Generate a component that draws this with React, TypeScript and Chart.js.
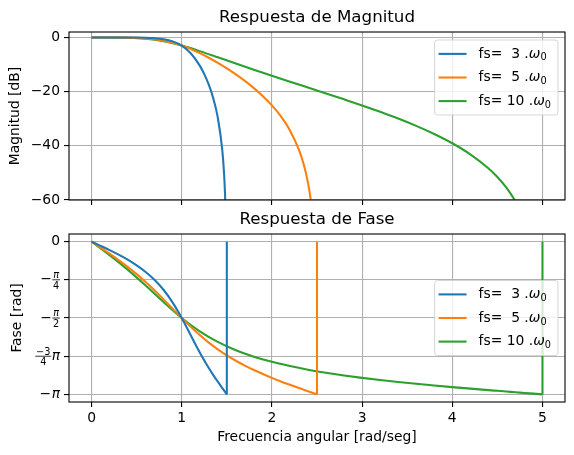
import React, { useEffect, useRef } from 'react';
import { Chart, registerables } from 'chart.js';

Chart.register(...registerables);

// ---------------- data ----------------
const FS_VALUES = [3, 5, 10];
const SERIES_COLORS = ['#1f77b4', '#ff7f0e', '#2ca02c'];

const X_TICKS = [0, 1, 2, 3, 4, 5];
const MAG_TICKS = [-60, -40, -20, 0];
const PHASE_TICKS = [0, -Math.PI / 4, -Math.PI / 2, (-3 * Math.PI) / 4, -Math.PI];
const PHASE_TICK_LABELS = [
  { lead: '0' },
  { lead: '\u2212', num: '\u03c0', den: '4' },
  { lead: '\u2212', num: '\u03c0', den: '2' },
  { num: '\u22123', den: '4', trail: '\u03c0' },
  { lead: '\u2212', trail: '\u03c0' },
];

const TITLE_MAG = 'Respuesta de Magnitud';
const TITLE_PHASE = 'Respuesta de Fase';
const YLABEL_MAG = 'Magnitud [dB]';
const YLABEL_PHASE = 'Fase [rad]';
const XLABEL = 'Frecuencia angular [rad/seg]';

// fs = 3 w0
const omegaFs3 = [0, 0.1, 0.2, 0.3, 0.4, 0.5, 0.6, 0.7, 0.8, 0.9, 1.0, 1.1, 1.2, 1.25, 1.3, 1.35, 1.4, 1.45, 1.47, 1.48, 1.49, 1.5, 1.5];
const magFs3 = [0, 0, -0.001, -0.005, -0.019, -0.053, -0.132, -0.306, -0.678, -1.458, -3.01, -5.83, -10.4, -13.53, -17.44, -22.49, -29.6, -41.7, -50.57, -57.6, -69.7, null, null];
const phaseFs3 = [0, -0.086, -0.174, -0.268, -0.371, -0.488, -0.624, -0.789, -0.995, -1.254, -1.571, -1.927, -2.28, -2.445, -2.6, -2.745, -2.881, -3.013, -3.065, -3.09, -3.116, -3.1416, 0];

// fs = 5 w0
const omegaFs5 = [0, 0.1, 0.2, 0.3, 0.4, 0.5, 0.6, 0.7, 0.8, 0.9, 1.0, 1.1, 1.2, 1.3, 1.4, 1.5, 1.6, 1.7, 1.8, 1.9, 2.0, 2.1, 2.2, 2.3, 2.35, 2.4, 2.43, 2.45, 2.48, 2.5, 2.5];
const magFs5 = [0, 0, -0.004, -0.021, -0.067, -0.17, -0.367, -0.705, -1.232, -1.993, -3.01, -4.284, -5.789, -7.495, -9.377, -11.42, -13.64, -16.05, -18.7, -21.68, -25.09, -29.17, -34.33, -41.49, -46.53, -53.6, -59.8, -65.7, -81.6, null, null];
const phaseFs5 = [0, -0.123, -0.248, -0.379, -0.519, -0.669, -0.832, -1.006, -1.191, -1.381, -1.571, -1.753, -1.922, -2.077, -2.215, -2.339, -2.45, -2.55, -2.641, -2.724, -2.802, -2.875, -2.944, -3.011, -3.044, -3.077, -3.096, -3.109, -3.129, -3.1416, 0];

// fs = 10 w0
const omegaFs10 = [0, 0.2, 0.4, 0.6, 0.8, 1.0, 1.2, 1.4, 1.6, 1.8, 2.0, 2.2, 2.4, 2.6, 2.8, 3.0, 3.2, 3.4, 3.6, 3.8, 4.0, 4.2, 4.4, 4.5, 4.6, 4.7, 4.8, 4.9, 5.0, 5.0];
const magFs10 = [0, -0.006, -0.098, -0.488, -1.432, -3.01, -5.058, -7.325, -9.638, -11.918, -14.15, -16.34, -18.5, -20.66, -22.85, -25.09, -27.44, -29.93, -32.63, -35.63, -39.06, -43.15, -48.31, -51.54, -55.47, -60.5, -67.6, -79.6, null, null];
const phaseFs10 = [0, -0.277, -0.575, -0.903, -1.247, -1.571, -1.845, -2.063, -2.233, -2.366, -2.473, -2.56, -2.634, -2.697, -2.753, -2.802, -2.846, -2.886, -2.924, -2.959, -2.992, -3.023, -3.054, -3.069, -3.084, -3.098, -3.113, -3.127, -3.1416, 0];

const OMEGAS = [omegaFs3, omegaFs5, omegaFs10];
const MAGS = [magFs3, magFs5, magFs10];
const PHASES = [phaseFs3, phaseFs5, phaseFs10];

// ---------------- styling ----------------
const FONT = '"DejaVu Sans", "Noto Sans", sans-serif';
const FS_TEXT = 13.89;
const FS_TITLE = 16.67;
const GRID_COLOR = '#b0b0b0';
const LINE_W = 2.08;

Chart.defaults.font.family = FONT;
Chart.defaults.color = '#000';

const fmtNum = (v: number) => (v < 0 ? '\u2212' + Math.abs(v) : String(v));

function legendLead(fs: number) {
  return 'fs= ' + String(fs).padStart(2, ' ') + ' ';
}

function drawLegendLabel(ctx: CanvasRenderingContext2D, fs: number, x: number, y: number) {
  ctx.textAlign = 'left';
  ctx.textBaseline = 'middle';
  ctx.fillStyle = '#000';
  ctx.font = `${FS_TEXT}px ${FONT}`;
  const lead = legendLead(fs) + '.';
  ctx.fillText(lead, x, y);
  x += ctx.measureText(lead).width;
  ctx.font = `italic ${FS_TEXT}px ${FONT}`;
  ctx.fillText('\u03c9', x, y);
  x += ctx.measureText('\u03c9').width;
  ctx.font = `${FS_TEXT * 0.7}px ${FONT}`;
  ctx.fillText('0', x, y + 4);
  x += ctx.measureText('0').width;
  return x;
}

function measureLegendLabel(ctx: CanvasRenderingContext2D, fs: number) {
  ctx.font = `${FS_TEXT}px ${FONT}`;
  let w = ctx.measureText(legendLead(fs) + '.').width;
  ctx.font = `italic ${FS_TEXT}px ${FONT}`;
  w += ctx.measureText('\u03c9').width;
  ctx.font = `${FS_TEXT * 0.7}px ${FONT}`;
  w += ctx.measureText('0').width;
  return w;
}

function drawLegend(chart: any, placement: string) {
  const ctx: CanvasRenderingContext2D = chart.ctx;
  const area = chart.chartArea;
  const boxH = 75;
  const rowPitch = 23.6;
  const textX0 = 44;
  ctx.save();
  const maxW = Math.max(...FS_VALUES.map((fs) => measureLegendLabel(ctx, fs)));
  const boxW = textX0 + maxW + 7;
  const right = area.right - 7;
  const left = right - boxW;
  const top = placement === 'upper right' ? area.top + 8 : (area.top + area.bottom) / 2 - boxH / 2;
  ctx.beginPath();
  (ctx as any).roundRect(left, top, boxW, boxH, 3);
  ctx.fillStyle = 'rgba(255,255,255,0.8)';
  ctx.fill();
  ctx.strokeStyle = 'rgba(204,204,204,0.8)';
  ctx.lineWidth = 1;
  ctx.stroke();
  FS_VALUES.forEach((fs, i) => {
    const y = top + 13.9 + i * rowPitch;
    ctx.beginPath();
    ctx.strokeStyle = SERIES_COLORS[i];
    ctx.lineWidth = LINE_W;
    ctx.moveTo(left + 4, y);
    ctx.lineTo(left + 32, y);
    ctx.stroke();
    drawLegendLabel(ctx, fs, left + textX0, y);
  });
  ctx.restore();
}

function drawFrame(chart: any) {
  const ctx: CanvasRenderingContext2D = chart.ctx;
  const a = chart.chartArea;
  ctx.save();
  ctx.strokeStyle = '#000';
  ctx.lineWidth = 1.1;
  ctx.strokeRect(a.left, a.top, a.right - a.left, a.bottom - a.top);
  ctx.restore();
}

function drawPhaseLabels(chart: any) {
  const ctx: CanvasRenderingContext2D = chart.ctx;
  const yScale = chart.scales.y;
  const xRight = chart.chartArea.left - 5 - 4;
  const big = `${FS_TEXT}px ${FONT}`;
  const bigIt = `italic ${FS_TEXT}px ${FONT}`;
  const sm = FS_TEXT * 0.7;
  const small = `${sm}px ${FONT}`;
  const smallIt = `italic ${sm}px ${FONT}`;
  ctx.save();
  ctx.fillStyle = '#000';
  PHASE_TICKS.forEach((v, i) => {
    const spec: any = PHASE_TICK_LABELS[i];
    const y = yScale.getPixelForValue(v);
    let x = xRight;
    ctx.textBaseline = 'middle';
    ctx.textAlign = 'right';
    if (spec.trail) {
      ctx.font = bigIt;
      ctx.fillText(spec.trail, x, y);
      x -= ctx.measureText(spec.trail).width + 0.5;
    }
    if (spec.num) {
      const numFont = spec.num === '\u03c0' ? smallIt : small;
      ctx.font = numFont;
      const wN = ctx.measureText(spec.num).width;
      ctx.font = small;
      const wD = ctx.measureText(spec.den).width;
      const w = Math.max(wN, wD) + 1.5;
      const cx = x - w / 2;
      ctx.fillRect(x - w, y - 0.4, w, 0.8);
      ctx.textAlign = 'center';
      ctx.textBaseline = 'alphabetic';
      ctx.font = numFont;
      ctx.fillText(spec.num, cx, y - 1.6);
      ctx.font = small;
      ctx.fillText(spec.den, cx, y + 1.6 + sm * 0.73);
      x -= w + 0.5;
    }
    if (spec.lead) {
      ctx.font = big;
      ctx.textAlign = 'right';
      ctx.textBaseline = 'middle';
      ctx.fillText(spec.lead, x, y);
    }
  });
  ctx.restore();
}

function overlayPlugin(id: string, placement: string, phaseLabels: boolean) {
  return {
    id,
    afterDatasetsDraw(chart: any) {
      drawFrame(chart);
      if (phaseLabels) drawPhaseLabels(chart);
      drawLegend(chart, placement);
    },
  };
}

function gridOpts() {
  return {
    color: GRID_COLOR,
    lineWidth: 1.1,
    drawTicks: true,
    tickLength: 5,
    tickColor: '#000',
    tickWidth: 1.1,
  };
}

function fixWidth(w: number) {
  return (scale: any) => {
    scale.width = w;
    scale.paddingTop = 0;
    scale.paddingBottom = 0;
  };
}
function fixHeight(h: number) {
  return (scale: any) => {
    scale.height = h;
    scale.paddingLeft = 0;
    scale.paddingRight = 0;
  };
}

function lineStyle(i: number, smooth: boolean) {
  return {
    borderColor: SERIES_COLORS[i],
    backgroundColor: SERIES_COLORS[i],
    borderWidth: LINE_W,
    pointRadius: 0,
    pointHoverRadius: 0,
    fill: false,
    spanGaps: false,
    borderJoinStyle: 'round' as const,
    cubicInterpolationMode: smooth ? ('monotone' as const) : ('default' as const),
    tension: 0,
  };
}

// Magnitude: smooth curve through the read points (nulls = -inf, not drawn)
function buildMagDatasets() {
  return FS_VALUES.map((fs, i) => ({
    label: legendLead(fs) + '.\u03c9\u2080',
    data: OMEGAS[i]
      .map((x, j) => ({ x, y: MAGS[i][j] }))
      .filter((p) => p.y !== null),
    ...lineStyle(i, true),
  }));
}

// Phase: smooth curve up to the Nyquist point, then the vertical wrap to 0
function buildPhaseDatasets() {
  const sets: any[] = [];
  FS_VALUES.forEach((fs, i) => {
    const pts = OMEGAS[i].map((x, j) => ({ x, y: PHASES[i][j] }));
    const n = pts.length;
    sets.push({ label: legendLead(fs) + '.\u03c9\u2080', data: pts.slice(0, n - 1), ...lineStyle(i, true) });
    sets.push({ label: '', data: pts.slice(n - 2), ...lineStyle(i, false) });
  });
  return sets;
}

function titleOpts(text: string) {
  return {
    display: true,
    text,
    fullSize: false,
    color: '#000',
    font: { size: FS_TITLE, weight: 'normal' as const, family: FONT },
    padding: { top: 8, bottom: 4 },
  };
}

export default function App() {
  const magRef = useRef<HTMLCanvasElement>(null);
  const phaseRef = useRef<HTMLCanvasElement>(null);

  useEffect(() => {
    const xScaleBase = {
      type: 'linear' as const,
      min: -0.25,
      max: 5.25,
      afterBuildTicks: (scale: any) => {
        scale.ticks = X_TICKS.map((v) => ({ value: v }));
      },
      grid: gridOpts(),
      border: { display: false },
    };

    const magChart = new Chart(magRef.current as HTMLCanvasElement, {
      type: 'line',
      data: { datasets: buildMagDatasets() as any },
      options: {
        responsive: false,
        animation: false,
        events: [],
        layout: { padding: { left: 0, right: 9, top: 0, bottom: 0 }, autoPadding: false },
        plugins: {
          legend: { display: false },
          tooltip: { enabled: false },
          title: titleOpts(TITLE_MAG),
        },
        scales: {
          x: {
            ...xScaleBase,
            ticks: { display: false },
            afterFit: fixHeight(5),
          },
          y: {
            type: 'linear',
            min: -60,
            max: 2,
            afterBuildTicks: (scale: any) => {
              scale.ticks = MAG_TICKS.map((v) => ({ value: v }));
            },
            ticks: {
              font: { size: FS_TEXT },
              color: '#000',
              padding: 4,
              callback: (v: any) => fmtNum(Number(v)),
            },
            grid: gridOpts(),
            border: { display: false },
            title: {
              display: true,
              text: YLABEL_MAG,
              color: '#000',
              font: { size: FS_TEXT },
              padding: { top: 7, bottom: 0 },
            },
            afterFit: fixWidth(69),
          },
        },
      } as any,
      plugins: [overlayPlugin('magOverlay', 'upper right', false)],
    });

    const phaseChart = new Chart(phaseRef.current as HTMLCanvasElement, {
      type: 'line',
      data: { datasets: buildPhaseDatasets() as any },
      options: {
        responsive: false,
        animation: false,
        events: [],
        layout: { padding: { left: 0, right: 9, top: 0, bottom: 0 }, autoPadding: false },
        plugins: {
          legend: { display: false },
          tooltip: { enabled: false },
          title: titleOpts(TITLE_PHASE),
        },
        scales: {
          x: {
            ...xScaleBase,
            ticks: {
              font: { size: FS_TEXT },
              color: '#000',
              padding: 3,
              maxRotation: 0,
              callback: (v: any) => fmtNum(Number(v)),
            },
            title: {
              display: true,
              text: XLABEL,
              color: '#000',
              font: { size: FS_TEXT },
              padding: { top: 0, bottom: 9.5 },
            },
            afterFit: fixHeight(53),
          },
          y: {
            type: 'linear',
            min: -1.05 * Math.PI,
            max: 0.05 * Math.PI,
            afterBuildTicks: (scale: any) => {
              scale.ticks = PHASE_TICKS.map((v) => ({ value: v }));
            },
            ticks: {
              font: { size: FS_TEXT },
              padding: 4,
              callback: () => '',
            },
            grid: gridOpts(),
            border: { display: false },
            title: {
              display: true,
              text: YLABEL_PHASE,
              color: '#000',
              font: { size: FS_TEXT },
              padding: { top: 9, bottom: 0 },
            },
            afterFit: fixWidth(69),
          },
        },
      } as any,
      plugins: [overlayPlugin('phaseOverlay', 'center right', true)],
    });

    return () => {
      magChart.destroy();
      phaseChart.destroy();
    };
  }, []);

  return (
    <div style={{ position: 'absolute', left: 0, top: 0, width: 574, height: 455, background: '#fff' }}>
      <canvas
        ref={magRef}
        width={574}
        height={205}
        style={{ position: 'absolute', left: 0, top: 0, width: 574, height: 205 }}
      />
      <canvas
        ref={phaseRef}
        width={574}
        height={253}
        style={{ position: 'absolute', left: 0, top: 202, width: 574, height: 253 }}
      />
    </div>
  );
}
